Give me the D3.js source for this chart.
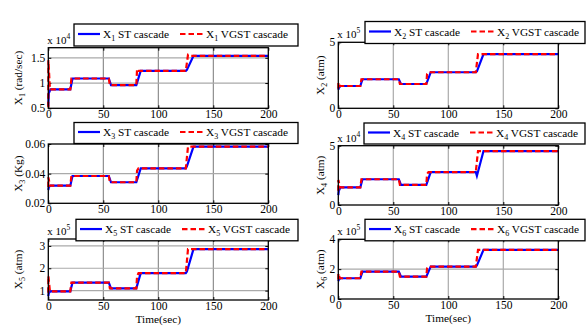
<!DOCTYPE html>
<html><head><meta charset="utf-8">
<script src="https://cdn.jsdelivr.net/npm/d3@7"></script>
<style>body{margin:0;background:#fff}svg{display:block}</style>
</head><body><svg id="c" width="587" height="329"></svg>
<script>
// ---- data ----
const xTicks = [0, 50, 100, 150, 200];
const tST = [0, 0.5, 2, 20, 22, 55, 57, 80, 84, 125, 126, 132, 200];
const tVG = [0, 0.1, 1.5, 20, 21, 55, 56, 80, 80.7, 82, 125, 127, 129, 200];

const x1ST = [0.55, 0.8, 0.875, 0.875, 1.09, 1.09, 0.96, 0.96, 1.24, 1.24, 1.26, 1.54, 1.54];
const x1VG = [0.52, 1.45, 0.875, 0.875, 1.09, 1.09, 0.96, 0.96, 1.28, 1.24, 1.24, 1.56, 1.54, 1.54];
const x2ST = [1.4, 1.55, 1.69, 1.69, 2.2, 2.2, 1.84, 1.84, 2.73, 2.73, 2.8, 4.11, 4.11];
const x2VG = [1.5, 1.95, 1.69, 1.69, 2.2, 2.2, 1.84, 1.84, 2.6, 2.73, 2.73, 4.11, 4.11, 4.11];
const x3ST = [0.029, 0.031, 0.0319, 0.0319, 0.0384, 0.0384, 0.0342, 0.0342, 0.0436, 0.0436, 0.045, 0.0582, 0.0582];
const x3VG = [0.031, 0.0375, 0.0319, 0.0319, 0.0384, 0.0384, 0.0342, 0.0342, 0.042, 0.0436, 0.0436, 0.0582, 0.0582, 0.0582];
const x4ST = [0.84, 1.2, 1.49, 1.49, 2.17, 2.17, 1.69, 1.69, 2.78, 2.78, 2.45, 4.55, 4.55];
const x4VG = [1.2, 2.1, 1.49, 1.49, 2.17, 2.17, 1.69, 1.69, 2.6, 2.78, 2.78, 4.55, 4.55, 4.55];
const x5ST = [0.75, 0.9, 0.97, 0.97, 1.36, 1.36, 1.1, 1.1, 1.78, 1.78, 1.85, 2.86, 2.86];
const x5VG = [0.9, 1.65, 0.97, 0.97, 1.36, 1.36, 1.1, 1.1, 1.65, 1.78, 1.78, 2.86, 2.86, 2.86];
const x6ST = [1.2, 1.3, 1.39, 1.39, 1.84, 1.84, 1.5, 1.5, 2.17, 2.17, 2.25, 3.29, 3.29];
const x6VG = [1.3, 1.7, 1.39, 1.39, 1.84, 1.84, 1.5, 1.5, 2.05, 2.17, 2.17, 3.29, 3.29, 3.29];

const yTicks1 = [0.5, 1, 1.5], yTicks2 = [0, 5], yTicks3 = [0.02, 0.04, 0.06];
const yTicks4 = [0, 5], yTicks5 = [1, 2, 3], yTicks6 = [0, 2, 4];
const yLabels = ["(rad/sec)", "(atm)", "(Kg)", "(atm)", "(atm)", "(atm)"];
const exponents = ["4", "5", null, "4", "5", "5"];

// ---- layout ----
const panels = [
  {i:1, st:x1ST, vg:x1VG, dom:[0.5,1.7], ticks:yTicks1, fmt:d=>d, L:48.3, R:268.3, T:47.7, B:108.3, leg:[74,24,224,22], col:0},
  {i:2, st:x2ST, vg:x2VG, dom:[0,5], ticks:yTicks2, fmt:d=>d, L:338.3, R:558.3, T:42.3, B:108.3, leg:[365,21.5,220,22], col:1},
  {i:3, st:x3ST, vg:x3VG, dom:[0.02,0.06], ticks:yTicks3, fmt:d=>d.toFixed(2), L:48.3, R:268.3, T:144, B:203.3, leg:[74,122.5,224,21], col:0},
  {i:4, st:x4ST, vg:x4VG, dom:[0,5], ticks:yTicks4, fmt:d=>d, L:338.3, R:558.3, T:145.7, B:205, leg:[364,123,221,21], col:1},
  {i:5, st:x5ST, vg:x5VG, dom:[0.58,3.31], ticks:yTicks5, fmt:d=>d, L:48.3, R:268.3, T:239, B:300, leg:[76,219.3,222,21.5], col:0, time:true},
  {i:6, st:x6ST, vg:x6VG, dom:[0,4], ticks:yTicks6, fmt:d=>d, L:338.3, R:558.3, T:239.3, B:299, leg:[365,219.3,220,21.5], col:1, time:true}
];

const FONT = "'Liberation Serif', 'DejaVu Serif', serif";
const FS = 11.3;
const svg = d3.select("#c");

panels.forEach((p, k) => {
  const x = d3.scaleLinear().domain([0,200]).range([p.L, p.R]);
  const y = d3.scaleLinear().domain(p.dom).range([p.B, p.T]);
  const g = svg.append("g");
  // grid
  g.selectAll(".gv").data(xTicks.slice(1,-1)).enter().append("line")
    .attr("x1", d=>x(d)).attr("x2", d=>x(d)).attr("y1", p.T).attr("y2", p.B)
    .attr("stroke", p.col===0 ? "#555" : "#aaa").attr("stroke-width", p.col===0 ? 0.8 : 1.2);
  g.selectAll(".gh").data(p.ticks.filter(t=>y(t)>p.T+1 && y(t)<p.B-1)).enter().append("line")
    .attr("x1", p.L).attr("x2", p.R).attr("y1", d=>y(d)).attr("y2", d=>y(d))
    .attr("stroke", "#aaa").attr("stroke-width", 1.2);
  // axes (ticks inside)
  const ax = g.append("g").attr("transform", `translate(0,${p.B})`)
    .call(d3.axisBottom(x).tickValues(xTicks).tickSize(-3).tickPadding(2));
  const ay = g.append("g").attr("transform", `translate(${p.L},0)`)
    .call(d3.axisLeft(y).tickValues(p.ticks).tickFormat(p.fmt).tickSize(-3).tickPadding(3));
  g.append("g").attr("transform", `translate(0,${p.T})`)
    .call(d3.axisTop(x).tickValues(xTicks).tickSize(-3).tickFormat(""));
  g.append("g").attr("transform", `translate(${p.R},0)`)
    .call(d3.axisRight(y).tickValues(p.ticks).tickSize(-3).tickFormat(""));
  g.selectAll(".domain").remove();
  g.selectAll(".tick line").attr("stroke", "#000");
  [ax, ay].forEach(a => { a.attr("font-family", FONT).attr("font-size", 11.5);
    a.selectAll("text").attr("fill", "#000"); });
  ax.selectAll("text").attr("dy", "0.71em").attr("y", 2);
  // lines
  const lineST = d3.line().x((d,j)=>x(tST[j])).y(d=>y(d));
  const lineVG = d3.line().x((d,j)=>x(tVG[j])).y(d=>y(d));
  g.append("path").datum(p.st).attr("d", lineST).attr("fill","none").attr("stroke","#0000ff").attr("stroke-width",2.2);
  g.append("path").datum(p.vg).attr("d", lineVG).attr("fill","none").attr("stroke","#ff0000").attr("stroke-width",2.2).attr("stroke-dasharray","5.5,3");
  // box
  g.append("rect").attr("x", p.L).attr("y", p.T).attr("width", p.R-p.L).attr("height", p.B-p.T)
    .attr("fill","none").attr("stroke","#000").attr("stroke-width",1.3);
  // exponent label
  if (exponents[k]) {
    const e = g.append("text").attr("x", p.L - 1).attr("y", p.T - 4).attr("font-size", 11);
    e.append("tspan").text("x 10");
    e.append("tspan").text(exponents[k]).attr("dy", -5).attr("font-size", 7.5);
  }
  // y label
  const lx = p.col===0 ? 22 : 324;
  const ly = (p.T + p.B) / 2;
  const yl = g.append("text").attr("transform", `translate(${lx},${ly}) rotate(-90)`).attr("text-anchor","middle").attr("font-size", FS);
  yl.append("tspan").text("X");
  yl.append("tspan").text(p.i).attr("dy", 3).attr("font-size", 8);
  yl.append("tspan").text(" " + yLabels[k]).attr("dy", -3);
  // time label
  if (p.time) {
    g.append("text").attr("x", (p.L+p.R)/2).attr("y", p.B + 22.5).attr("text-anchor","middle").attr("font-size", FS).text("Time(sec)");
  }
  // legend
  const [lx0, ly0, lw, lh] = p.leg;
  const lg = g.append("g");
  lg.append("rect").attr("x", lx0).attr("y", ly0).attr("width", lw).attr("height", lh).attr("fill","#fff").attr("stroke","#000").attr("stroke-width",1.3);
  const cy = ly0 + lh/2 - 1;
  lg.append("line").attr("x1", lx0+4).attr("x2", lx0+26).attr("y1", cy).attr("y2", cy).attr("stroke","#0000ff").attr("stroke-width",2.2);
  const t1 = lg.append("text").attr("x", lx0+29).attr("y", cy+4).attr("font-size", FS);
  t1.append("tspan").text("X"); t1.append("tspan").text(p.i).attr("dy",3).attr("font-size", 8);
  t1.append("tspan").text(" ST cascade").attr("dy",-3);
  lg.append("line").attr("x1", lx0+106).attr("x2", lx0+129).attr("y1", cy).attr("y2", cy).attr("stroke","#ff0000").attr("stroke-width",2.2).attr("stroke-dasharray","5.5,3");
  const t2 = lg.append("text").attr("x", lx0+132).attr("y", cy+4).attr("font-size", FS);
  t2.append("tspan").text("X"); t2.append("tspan").text(p.i).attr("dy",3).attr("font-size", 8);
  t2.append("tspan").text(" VGST cascade").attr("dy",-3);
});
svg.selectAll("text").attr("font-family", FONT).attr("fill", "#000");
</script></body></html>
